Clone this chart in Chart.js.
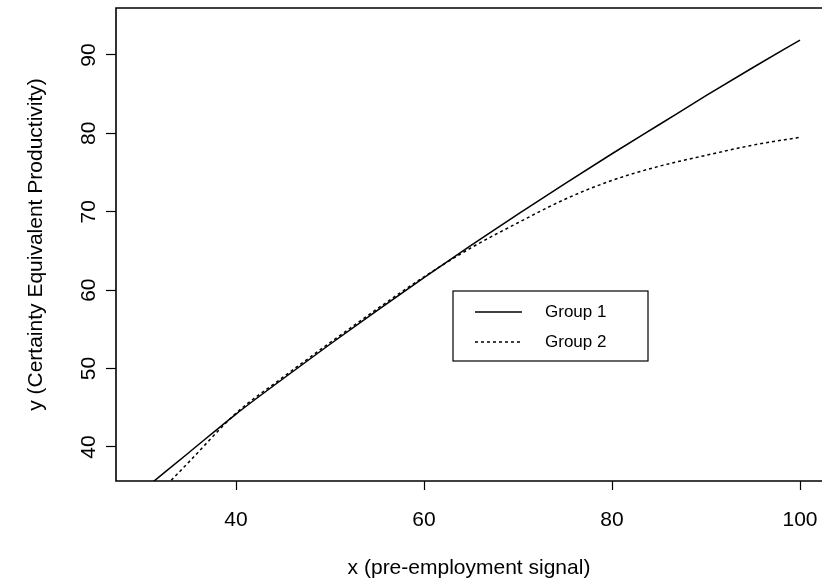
<!DOCTYPE html>
<html>
<head>
<meta charset="utf-8">
<script src="https://cdn.jsdelivr.net/npm/chart.js@4/dist/chart.umd.min.js"></script>
<style>
  html, body { margin: 0; padding: 0; background: #fff; }
</style>
</head>
<body>
<canvas id="ceChart" width="822" height="587"></canvas>
<script>
// values
var signal = [30, 35, 40, 45, 50, 55, 60, 65, 70, 75, 80, 85, 90, 95, 100];
var group1 = [34.4, 39.3, 44.2, 48.7, 53.1, 57.4, 61.6, 65.7, 69.7, 73.6, 77.4, 81.1, 84.8, 88.4, 91.9];
var group2 = [31.9, 38.1, 44.3, 48.9, 53.3, 57.6, 61.7, 65.4, 68.6, 71.6, 74.0, 75.8, 77.2, 78.5, 79.5];
var seriesNames = ['Group 1', 'Group 2'];
var xTicks = [40, 60, 80, 100];
var yTicks = [40, 50, 60, 70, 80, 90];

var FONT = '"Liberation Sans", Arial, Helvetica, sans-serif';

function pts(ys) {
    return signal.map(function(x, i) { return { x: x, y: ys[i] }; });
}

// box, rotated y tick labels and the legend box, R style
var framePlugin = {
    id: 'frame',
    afterDraw: function(chart) {
        var ctx = chart.ctx;
        var a = chart.chartArea;
        ctx.save();
        ctx.strokeStyle = '#000';
        ctx.lineWidth = 1.6;
        ctx.beginPath();
        ctx.moveTo(a.right + 2, a.top);
        ctx.lineTo(a.left, a.top);
        ctx.lineTo(a.left, a.bottom);
        ctx.lineTo(a.right + 2, a.bottom);
        ctx.stroke();

        var ys = chart.scales.y;
        ctx.fillStyle = '#000';
        ctx.font = '21px ' + FONT;
        ctx.textAlign = 'center';
        ctx.textBaseline = 'middle';
        yTicks.forEach(function(v) {
            ctx.save();
            ctx.translate(89, ys.getPixelForValue(v));
            ctx.rotate(-Math.PI / 2);
            ctx.fillText(String(v), 0, 0);
            ctx.restore();
        });

        // legend
        ctx.lineWidth = 1.2;
        ctx.strokeRect(453, 291, 195, 70);
        ctx.font = '17px ' + FONT;
        ctx.textAlign = 'left';
        chart.data.datasets.forEach(function(ds, i) {
            var ly = 312 + i * 30;
            ctx.beginPath();
            ctx.setLineDash(ds.borderDash || []);
            ctx.lineWidth = ds.borderWidth;
            ctx.moveTo(475, ly);
            ctx.lineTo(522, ly);
            ctx.stroke();
            ctx.setLineDash([]);
            ctx.fillText(ds.label, 545, ly);
        });
        ctx.restore();
    }
};

var ctx = document.getElementById('ceChart').getContext('2d');
var ceChart = new Chart(ctx, {
    type: 'line',
    data: {
        datasets: [{
            label: seriesNames[0],
            data: pts(group1),
            borderColor: '#000',
            borderWidth: 1.5,
            pointRadius: 0,
            cubicInterpolationMode: 'monotone'
        }, {
            label: seriesNames[1],
            data: pts(group2),
            borderColor: '#000',
            borderWidth: 1.5,
            borderDash: [3, 3],
            pointRadius: 0,
            cubicInterpolationMode: 'monotone'
        }]
    },
    options: {
        responsive: false,
        animation: false,
        layout: { padding: { top: 8, right: 0, bottom: 0, left: 0 } },
        plugins: {
            legend: { display: false },
            tooltip: { enabled: false }
        },
        scales: {
            x: {
                type: 'linear',
                min: 27.23,
                max: 102.34,
                afterBuildTicks: function(s) { s.ticks = xTicks.map(function(v) { return { value: v }; }); },
                afterFit: function(s) {
                    s.height = 106;
                    s.paddingLeft = 0;
                    s.paddingRight = 0;
                },
                border: { display: false },
                grid: { drawOnChartArea: false, drawTicks: true, tickLength: 9, tickColor: '#000', tickWidth: 1.2 },
                ticks: { color: '#000', padding: 18, maxRotation: 0, font: { family: FONT, size: 21 } },
                title: {
                    display: true,
                    text: 'x (pre-employment signal)',
                    color: '#000',
                    font: { family: FONT, size: 21 },
                    padding: { top: 0, bottom: 6 }
                }
            },
            y: {
                type: 'linear',
                min: 35.66,
                max: 95.99,
                afterBuildTicks: function(s) { s.ticks = yTicks.map(function(v) { return { value: v }; }); },
                afterFit: function(s) {
                    s.width = 116;
                    s.paddingTop = 0;
                    s.paddingBottom = 0;
                },
                border: { display: false },
                grid: { drawOnChartArea: false, drawTicks: true, tickLength: 10, tickColor: '#000', tickWidth: 1.2 },
                ticks: { display: false },
                title: {
                    display: true,
                    text: 'y (Certainty Equivalent Productivity)',
                    color: '#000',
                    font: { family: FONT, size: 21 },
                    padding: { top: 24, bottom: 0 }
                }
            }
        }
    },
    plugins: [framePlugin]
});
</script>
</body>
</html>
